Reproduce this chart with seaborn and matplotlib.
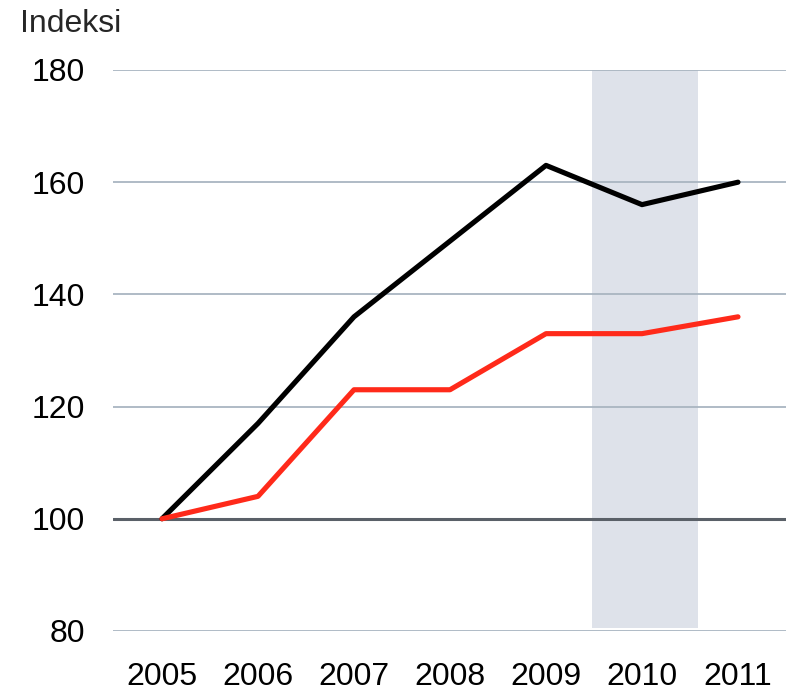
import numpy as np
import pandas as pd
import seaborn as sns
import matplotlib.pyplot as plt

years = [2005, 2006, 2007, 2008, 2009, 2010, 2011]
black_vals = [100, 117, 136, 149.5, 163, 156, 160]
red_vals = [100, 104, 123, 123, 133, 133, 136]
y_ticks = [80, 100, 120, 140, 160, 180]

sns.set_theme(style="white")
plt.rcParams['font.family'] = ['Liberation Sans', 'DejaVu Sans']

df = pd.DataFrame({"year": years, "black": black_vals, "red": red_vals})

fig = plt.figure(figsize=(7.86, 6.93), dpi=100)
ax = fig.add_axes([0.1438, 0.0895, 0.8562, 0.8095])

# shaded period
ax.axvspan(2009.48, 2010.58, ymin=0.006, ymax=1.0, color="#dee2ea", lw=0, zorder=0)

for t in y_ticks:
    if t == 100:
        ax.axhline(t, color="#5a6068", lw=2.2, zorder=1)
    else:
        ax.axhline(t, color="#a9b5c1", lw=1.3, zorder=1)

sns.lineplot(data=df, x="year", y="black", color="black", lw=3.7, ax=ax, zorder=3)
sns.lineplot(data=df, x="year", y="red", color="#ff2a1a", lw=3.7, ax=ax, zorder=4)

ax.set_xlim(2004.49, 2011.5)
ax.set_ylim(80, 180)
ax.set_yticks(y_ticks)
ax.set_xticks(years)
ax.set_xticklabels([str(y) for y in years])
ax.tick_params(axis="both", labelsize=23, length=0, colors="black")
ax.tick_params(axis="y", pad=20)
ax.tick_params(axis="x", pad=22)
ax.set_xlabel("")
ax.set_ylabel("")
for s in ax.spines.values():
    s.set_visible(False)

fig.text(0.025, 0.965, "Indeksi", fontsize=23, ha="left", va="center")

plt.savefig("out.png", dpi=100)
